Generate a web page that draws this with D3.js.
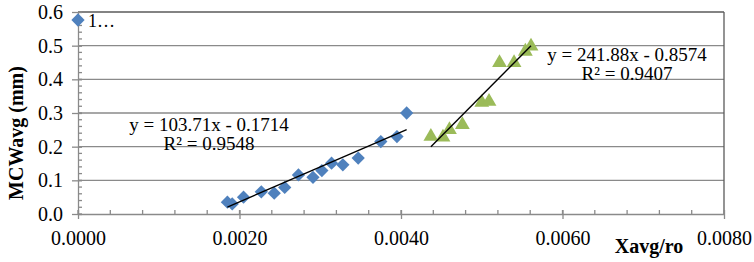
<!DOCTYPE html>
<html>
<head>
<meta charset="utf-8">
<script src="https://cdn.jsdelivr.net/npm/d3@7"></script>
<style>
    body { margin: 0; background: #fff; }
</style>
</head>
<body>
<svg id="chart" width="754" height="262"></svg>
<script>
/* ------------------------- DATA ------------------------- */

// serie 1 (rombi blu)
let xBlue = [0.00185, 0.00191, 0.00205, 0.00227, 0.00243, 0.00256, 0.00273, 0.00291, 0.00302, 0.00314, 0.00328, 0.00347, 0.00375, 0.00395, 0.00407]
let yBlue = [0.035, 0.030, 0.050, 0.066, 0.062, 0.079, 0.116, 0.109, 0.129, 0.151, 0.146, 0.166, 0.215, 0.230, 0.300]

// serie 2 (triangoli verdi)
let xGreen = [0.00437, 0.00452, 0.00460, 0.00476, 0.00500, 0.00509, 0.00522, 0.00540, 0.00554, 0.00561]
let yGreen = [0.230, 0.228, 0.250, 0.265, 0.331, 0.334, 0.449, 0.449, 0.483, 0.498]

// trendline: [pendenza, intercetta, R²]
let trendBlue = [103.71, -0.1714, 0.9548]
let trendGreen = [241.88, -0.8574, 0.9407]

let xTicks = [0, 0.002, 0.004, 0.006, 0.008]
let yTicks = [0, 0.1, 0.2, 0.3, 0.4, 0.5, 0.6]

const SERIF = '"Liberation Serif", "Times New Roman", serif'

/* ------------------------- SCALES ------------------------- */

let svg = d3.select("#chart")

let x = d3.scaleLinear().domain([0, 0.008]).range([78, 724])
let y = d3.scaleLinear().domain([0, 0.6]).range([214, 12])

/* ------------------------- GRID ------------------------- */

svg.append("g")
    .selectAll("line")
    .data(yTicks.slice(1))
    .enter().append("line")
        .attr("x1", x(0)).attr("x2", x(0.008))
        .attr("y1", d => y(d)).attr("y2", d => y(d))
        .attr("stroke", d => d == 0.6 ? "#5a5a5a" : "#8a8a8a")
        .attr("stroke-width", 1.3)

// bordo destro
svg.append("line")
    .attr("x1", x(0.008)).attr("x2", x(0.008))
    .attr("y1", y(0)).attr("y2", y(0.6))
    .attr("stroke", "#5a5a5a").attr("stroke-width", 1.3)

/* ------------------------- AXES ------------------------- */

let minorX = d3.range(0, 0.00801, 0.0004)
let minorY = d3.range(0, 0.601, 0.02)

let xAxis = svg.append("g")
    .attr("transform", "translate(0," + y(0) + ")")
    .call(d3.axisBottom(x).tickValues(xTicks).tickFormat(d3.format(".4f")).tickSizeInner(5).tickSizeOuter(0).tickPadding(12))

xAxis.selectAll(".tick line").attr("y1", -4)
xAxis.append("g").selectAll("line")
    .data(minorX)
    .enter().append("line")
        .attr("x1", d => x(d)).attr("x2", d => x(d))
        .attr("y1", 0).attr("y2", -4)

let yAxis = svg.append("g")
    .attr("transform", "translate(" + x(0) + ",0)")
    .call(d3.axisLeft(y).tickValues(yTicks).tickFormat(d3.format(".1f")).tickSizeInner(6).tickSizeOuter(0).tickPadding(9))

yAxis.selectAll(".tick line").attr("x1", 4)
yAxis.append("g").selectAll("line")
    .data(minorY)
    .enter().append("line")
        .attr("x1", 0).attr("x2", 4)
        .attr("y1", d => y(d)).attr("y2", d => y(d))

svg.selectAll(".domain, .tick line").attr("stroke", "#8a8a8a").attr("stroke-width", 1.3)
xAxis.selectAll("g > g line").attr("stroke", "#8a8a8a").attr("stroke-width", 1.3)
yAxis.selectAll("g > g line").attr("stroke", "#8a8a8a").attr("stroke-width", 1.3)
svg.selectAll(".tick text")
    .style("font-family", SERIF)
    .style("font-size", "20px")
    .attr("fill", "#000")

/* ------------------------- TITLES ------------------------- */

svg.append("text")
    .attr("transform", "translate(23,133) rotate(-90)")
    .attr("text-anchor", "middle")
    .style("font-family", SERIF).style("font-size", "20px").style("font-weight", "bold")
    .text("MCWavg (mm)")

svg.append("text")
    .attr("x", 649).attr("y", 253)
    .attr("text-anchor", "middle")
    .style("font-family", SERIF).style("font-size", "20px").style("font-weight", "bold")
    .text("Xavg/ro")

/* ------------------------- TRENDLINES ------------------------- */

function drawTrend(xs, t) {
    let x0 = d3.min(xs), x1 = d3.max(xs)
    svg.append("line")
        .attr("x1", x(x0)).attr("y1", y(t[0] * x0 + t[1]))
        .attr("x2", x(x1)).attr("y2", y(t[0] * x1 + t[1]))
        .attr("stroke", "#000").attr("stroke-width", 1.4)
}

/* ------------------------- POINTS ------------------------- */

let blue = d3.zip(xBlue, yBlue)
let green = d3.zip(xGreen, yGreen)

svg.append("g").selectAll("path")
    .data(blue)
    .enter().append("path")
        .attr("d", d3.symbol(d3.symbolSquare, 88))
        .attr("transform", d => "translate(" + x(d[0]) + "," + y(d[1]) + ") rotate(45)")
        .attr("fill", "#4f81bd")

svg.append("g").selectAll("path")
    .data(green)
    .enter().append("path")
        .attr("d", d3.symbol(d3.symbolTriangle, 95))
        .attr("transform", d => "translate(" + x(d[0]) + "," + y(d[1]) + ")")
        .attr("fill", "#9bbb59")

drawTrend(xBlue, trendBlue)
drawTrend(xGreen, trendGreen)

/* ------------------------- EQUATIONS ------------------------- */

function drawEquation(cx, cy, t) {
    let sign = t[1] < 0 ? " - " : " + "
    let g = svg.append("g").attr("text-anchor", "middle")
        .style("font-family", SERIF).style("font-size", "19px")
    g.append("text").attr("x", cx).attr("y", cy)
        .text("y = " + t[0].toFixed(2) + "x" + sign + Math.abs(t[1]).toFixed(4))
    g.append("text").attr("x", cx).attr("y", cy + 19)
        .text("R² = " + t[2].toFixed(4))
}

drawEquation(209, 131, trendBlue)
drawEquation(627, 61, trendGreen)

/* ------------------------- LEGEND ------------------------- */

svg.append("path")
    .attr("d", d3.symbol(d3.symbolSquare, 88))
    .attr("transform", "translate(" + x(0) + ",20) rotate(45)")
    .attr("fill", "#4f81bd")

svg.append("text")
    .attr("x", 88).attr("y", 27)
    .style("font-family", SERIF).style("font-size", "18px")
    .text("1…")
</script>
</body>
</html>
